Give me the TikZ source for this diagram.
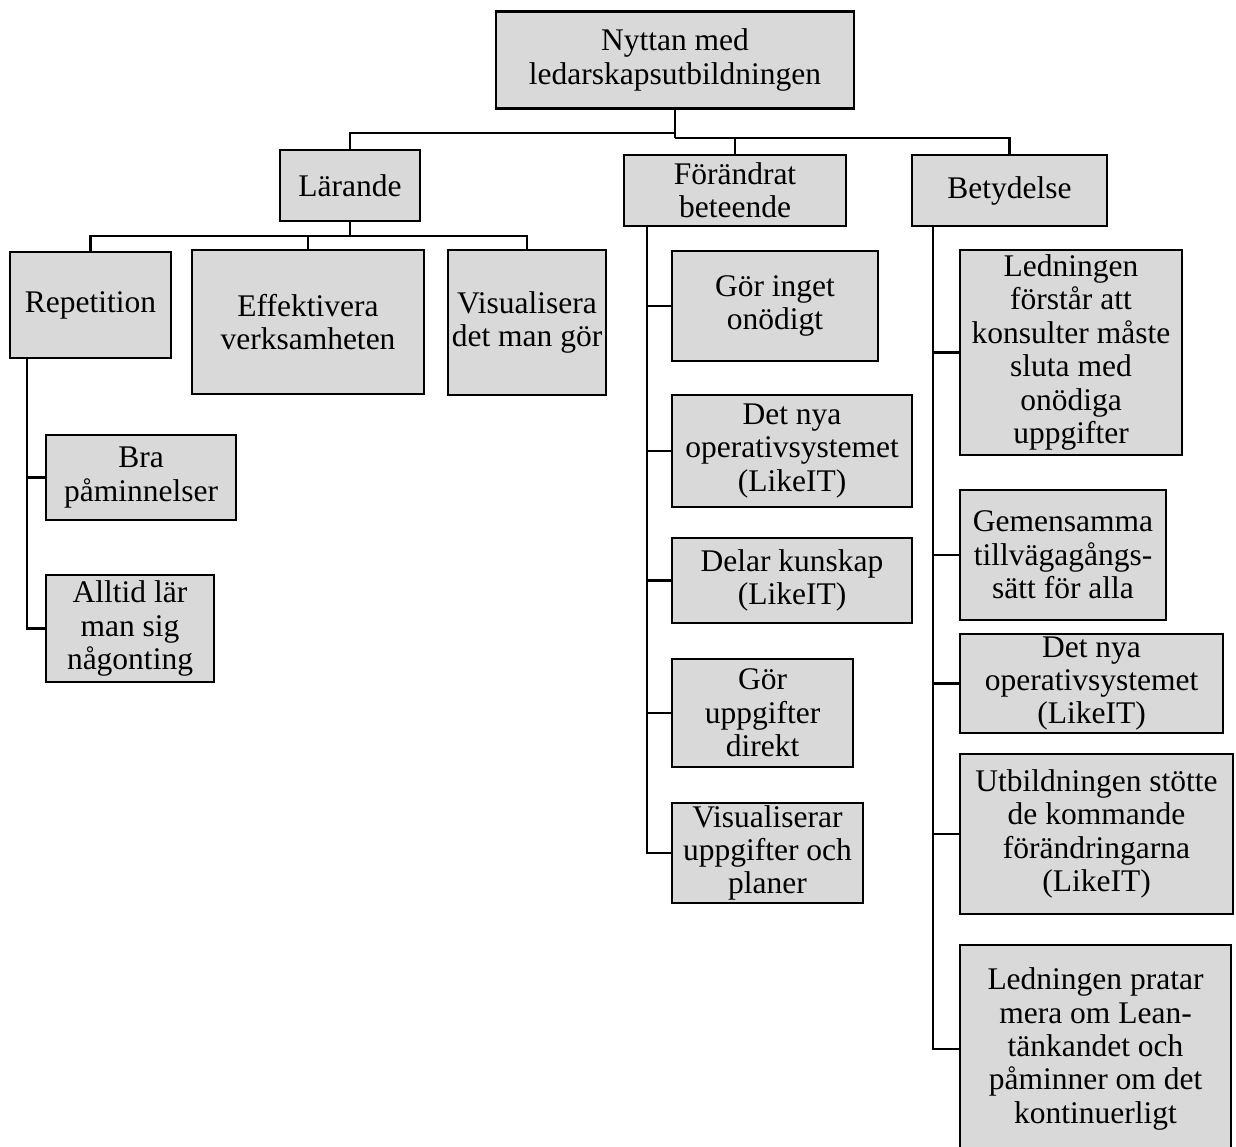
\documentclass[tikz,border=0pt]{standalone}
\usepackage{fontspec}
\setmainfont{Liberation Serif}
\definecolor{boxgray}{HTML}{D9D9D9}
\tikzset{
  box/.style={draw=black, line width=2.9pt, fill=boxgray, inner sep=0pt, outer sep=0pt,
    align=center, font={\fontsize{31.5}{33.4}\selectfont}},
  conn/.style={draw=black, line width=2.9pt, line join=miter}
}
\begin{document}
\begin{tikzpicture}[x=1pt,y=-1pt]
\useasboundingbox (0,0) rectangle (1236,1146);
% nodes
\node[box, minimum width=358pt, minimum height=97pt] (root) at (675,60) {Nyttan med\\ledarskapsutbildningen};
\node[box, minimum width=140pt, minimum height=71pt] (lar) at (350,185.5) {Lärande};
\node[box, minimum width=222pt, minimum height=71pt] (for) at (735,190.5) {Förändrat\\beteende};
\node[box, minimum width=195pt, minimum height=71pt] (bet) at (1009.5,190.5) {Betydelse};
% Lärande children
\node[box, minimum width=161pt, minimum height=106pt] (rep) at (90.5,305) {Repetition};
\node[box, minimum width=232pt, minimum height=144pt] (eff) at (308,322) {Effektivera\\verksamheten};
\node[box, minimum width=158pt, minimum height=145pt] (vis) at (527,322.5) {Visualisera\\det man gör};
\node[box, minimum width=190pt, minimum height=85pt] (bra) at (141,477.5) {Bra\\påminnelser};
\node[box, minimum width=168pt, minimum height=107pt] (all) at (130,628.5) {Alltid lär\\man sig\\någonting};
% Förändrat children
\node[box, minimum width=206pt, minimum height=110pt] (gi) at (775,306) {Gör inget\\onödigt};
\node[box, minimum width=240pt, minimum height=112pt] (dna) at (792,451) {Det nya\\operativsystemet\\(LikeIT)};
\node[box, minimum width=240pt, minimum height=85pt] (dk) at (792,580.5) {Delar kunskap\\(LikeIT)};
\node[box, minimum width=181pt, minimum height=108pt] (gu) at (762.5,713) {Gör\\uppgifter\\direkt};
\node[box, minimum width=191pt, minimum height=100pt] (vu) at (767.5,853) {Visualiserar\\uppgifter och\\planer};
% Betydelse children
\node[box, minimum width=222pt, minimum height=205pt] (lf) at (1071,352.5) {Ledningen\\förstår att\\konsulter måste\\sluta med\\onödiga\\uppgifter};
\node[box, minimum width=206pt, minimum height=130pt] (gem) at (1063,555) {Gemensamma\\tillvägagångs-\\sätt för alla};
\node[box, minimum width=263pt, minimum height=99pt] (dnb) at (1091.5,683.5) {Det nya\\operativsystemet\\(LikeIT)};
\node[box, minimum width=273pt, minimum height=160pt] (utb) at (1096.5,834) {Utbildningen stötte\\de kommande\\förändringarna\\(LikeIT)};
\node[box, minimum width=271pt, minimum height=208pt] (lp) at (1095.5,1049) {Ledningen pratar\\mera om Lean-\\tänkandet och\\påminner om det\\kontinuerligt};
% junction coordinates
\coordinate (jL) at (0,133);
\coordinate (jR) at (0,138);
\coordinate (jl2) at (0,236);
\coordinate (xr) at (27,0);
\coordinate (xf) at (647,0);
\coordinate (xb) at (933,0);
% connectors from root
\draw[conn] (root.south) -- (root.south |- jR);
\draw[conn] (root.south |- jL) -| (lar.north);
\draw[conn] (root.south |- jR) -| (bet.north);
\draw[conn] (root.south |- jR) -| (for.north);
% Lärande
\draw[conn] (lar.south) -- (lar.south |- jl2);
\draw[conn] (lar.south |- jl2) -| (rep.north);
\draw[conn] (lar.south |- jl2) -| (vis.north);
\draw[conn] (lar.south |- jl2) -| (eff.north);
% Repetition
\draw[conn] (rep.south -| xr) |- (bra.west);
\draw[conn] (rep.south -| xr) |- (all.west);
% Förändrat
\draw[conn] (for.south -| xf) |- (gi.west);
\draw[conn] (for.south -| xf) |- (dna.west);
\draw[conn] (for.south -| xf) |- (dk.west);
\draw[conn] (for.south -| xf) |- (gu.west);
\draw[conn] (for.south -| xf) |- (vu.west);
% Betydelse
\draw[conn] (bet.south -| xb) |- (lf.west);
\draw[conn] (bet.south -| xb) |- (gem.west);
\draw[conn] (bet.south -| xb) |- (dnb.west);
\draw[conn] (bet.south -| xb) |- (utb.west);
\draw[conn] (bet.south -| xb) |- (lp.west);
\end{tikzpicture}
\end{document}
